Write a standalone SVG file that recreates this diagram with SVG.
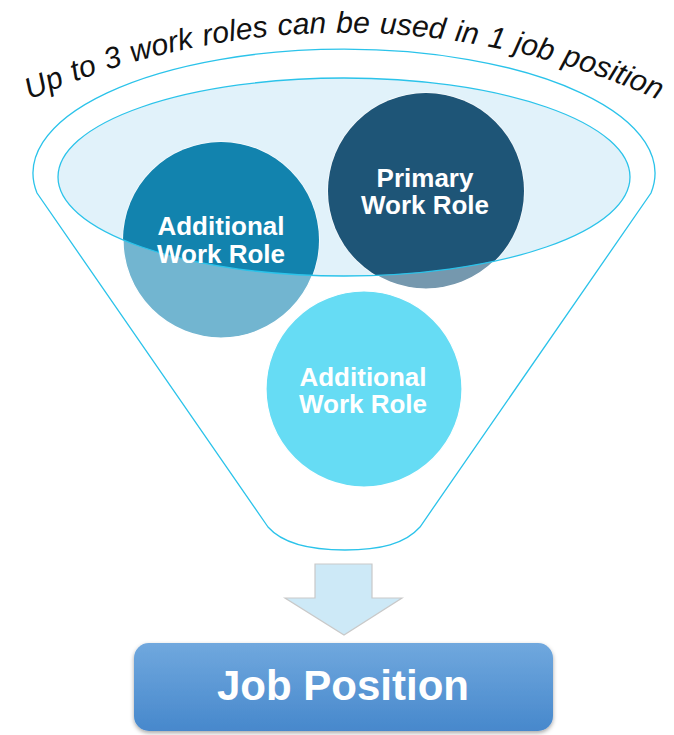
<svg xmlns="http://www.w3.org/2000/svg" width="674" height="735" viewBox="0 0 674 735">
<style>
.line{fill:none;stroke:#2bc3ea;stroke-width:1.3}
.lbl{font-family:"Liberation Sans",Arial,sans-serif;font-weight:bold;font-size:26px;fill:#ffffff;text-anchor:middle}
.ring{stroke:#ffffff;stroke-width:1.2}
.title{font-family:"Liberation Sans",Arial,sans-serif;font-style:italic;font-size:30px;fill:#111111;word-spacing:1.5px}
</style>
<defs>
<clipPath id="inner"><ellipse cx="344" cy="177" rx="286" ry="99"/></clipPath>
<linearGradient id="box" x1="0" y1="0" x2="0" y2="1">
<stop offset="0" stop-color="#70a8de"/>
<stop offset="1" stop-color="#4788cc"/>
</linearGradient>
<filter id="sh" x="-5%" y="-20%" width="110%" height="150%">
<feDropShadow dx="0" dy="2" stdDeviation="2" flood-color="#000" flood-opacity="0.35"/>
</filter>
<path id="arc" d="M 8,110 A 770 770 0 0 1 680,110"/>
</defs>
<rect width="674" height="735" fill="#ffffff"/>

<g id="title">
<text class="title"><textPath href="#arc" startOffset="50%" text-anchor="middle">Up to 3 work roles can be used in 1 job position</textPath></text>
</g>

<g id="funnel">
<path class="line" d="M 268,527 L 37,193 A 311 124 0 1 1 651,193 L 420,527 C 405,544 380,550 345,550 C 310,550 283,544 268,527 Z"/>
<ellipse cx="344" cy="177" rx="286" ry="99" fill="#e1f2fa"/>
</g>

<g id="additional-1">
<circle class="ring" cx="221" cy="240" r="98" fill="#72b5d0"/>
<circle cx="221" cy="240" r="98" fill="#1283ae" clip-path="url(#inner)"/>
</g>

<g id="primary">
<circle class="ring" cx="426" cy="191" r="98" fill="#7598ae"/>
<circle cx="426" cy="191" r="98" fill="#1e5577" clip-path="url(#inner)"/>
</g>

<g id="inner-ellipse-outline">
<ellipse class="line" cx="344" cy="177" rx="286" ry="99"/>
</g>

<g id="additional-1-label">
<text class="lbl" x="221" y="235">Additional</text>
<text class="lbl" x="221" y="263">Work Role</text>
</g>

<g id="primary-label">
<text class="lbl" x="425" y="187">Primary</text>
<text class="lbl" x="425" y="214">Work Role</text>
</g>

<g id="additional-2">
<circle class="ring" cx="364" cy="389" r="98" fill="#66dcf4"/>
<text class="lbl" x="363" y="386">Additional</text>
<text class="lbl" x="363" y="413">Work Role</text>
</g>

<g id="connectors">
<path d="M 315,564 L 372,564 L 372,598 L 402,598 L 344,635 L 285,598 L 315,598 Z" fill="#cde9f7" stroke="#c9c9c9" stroke-width="1.2" stroke-linejoin="miter"/>
</g>

<g id="job-position">
<rect x="134" y="643" width="419" height="88" rx="15" ry="15" fill="url(#box)" filter="url(#sh)"/>
<text x="343" y="700" font-family="'Liberation Sans',Arial,sans-serif" font-weight="bold" font-size="42" fill="#ffffff" text-anchor="middle">Job Position</text>
</g>
</svg>
